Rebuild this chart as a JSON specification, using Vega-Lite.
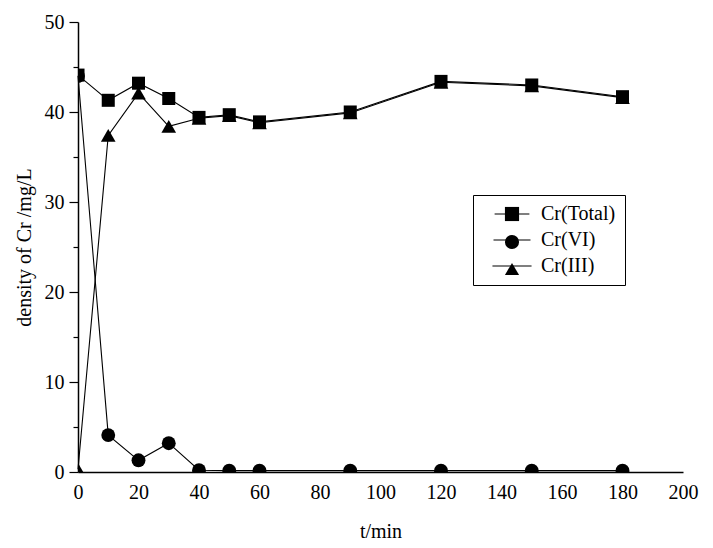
{
  "$schema": "https://vega.github.io/schema/vega-lite/v6.json",
  "width": 605,
  "height": 450,
  "autosize": {"type": "none"},
  "padding": {"left": 78, "top": 22, "right": 30, "bottom": 76},
  "background": "white",
  "config": {
    "view": {"stroke": null, "fill": null},
    "font": "Liberation Serif",
    "axis": {
      "labelFont": "Liberation Serif",
      "titleFont": "Liberation Serif",
      "labelFontSize": 20,
      "titleFontSize": 20,
      "labelColor": "black",
      "titleColor": "black",
      "titleFontWeight": "normal",
      "domainColor": "black",
      "domainWidth": 1.5,
      "tickColor": "black",
      "tickWidth": 1.2,
      "grid": false
    },
    "legend": {
      "labelFont": "Liberation Serif",
      "labelFontSize": 20,
      "labelColor": "black"
    }
  },
  "data": {
    "values": [
      {"t": 0, "series": "Cr(Total)", "value": 44.1},
      {"t": 10, "series": "Cr(Total)", "value": 41.3},
      {"t": 20, "series": "Cr(Total)", "value": 43.2},
      {"t": 30, "series": "Cr(Total)", "value": 41.5},
      {"t": 40, "series": "Cr(Total)", "value": 39.4},
      {"t": 50, "series": "Cr(Total)", "value": 39.7},
      {"t": 60, "series": "Cr(Total)", "value": 38.9},
      {"t": 90, "series": "Cr(Total)", "value": 40.0},
      {"t": 120, "series": "Cr(Total)", "value": 43.4},
      {"t": 150, "series": "Cr(Total)", "value": 43.0},
      {"t": 180, "series": "Cr(Total)", "value": 41.7},
      {"t": 0, "series": "Cr(VI)", "value": 44.0},
      {"t": 10, "series": "Cr(VI)", "value": 4.1},
      {"t": 20, "series": "Cr(VI)", "value": 1.3},
      {"t": 30, "series": "Cr(VI)", "value": 3.2},
      {"t": 40, "series": "Cr(VI)", "value": 0.2},
      {"t": 50, "series": "Cr(VI)", "value": 0.15},
      {"t": 60, "series": "Cr(VI)", "value": 0.15},
      {"t": 90, "series": "Cr(VI)", "value": 0.15},
      {"t": 120, "series": "Cr(VI)", "value": 0.15},
      {"t": 150, "series": "Cr(VI)", "value": 0.15},
      {"t": 180, "series": "Cr(VI)", "value": 0.15},
      {"t": 0, "series": "Cr(III)", "value": 0.3},
      {"t": 10, "series": "Cr(III)", "value": 37.4},
      {"t": 20, "series": "Cr(III)", "value": 42.1},
      {"t": 30, "series": "Cr(III)", "value": 38.4},
      {"t": 40, "series": "Cr(III)", "value": 39.3},
      {"t": 50, "series": "Cr(III)", "value": 39.6},
      {"t": 60, "series": "Cr(III)", "value": 38.8},
      {"t": 90, "series": "Cr(III)", "value": 39.9},
      {"t": 120, "series": "Cr(III)", "value": 43.3},
      {"t": 150, "series": "Cr(III)", "value": 42.9},
      {"t": 180, "series": "Cr(III)", "value": 41.6}
    ]
  },
  "encoding": {
    "x": {
      "field": "t", "type": "quantitative",
      "scale": {"domain": [0, 200], "nice": false},
      "axis": {"values": [0, 20, 40, 60, 80, 100, 120, 140, 160, 180, 200], "ticks": false, "labelPadding": 10, "title": "t/min", "titlePadding": 19, "labelFlush": false, "labelFont": "Liberation Serif", "labelFontSize": 20, "zindex": 1}
    },
    "y": {
      "field": "value", "type": "quantitative",
      "scale": {"domain": [0, 50], "nice": false},
      "axis": {
        "values": [0, 5, 10, 15, 20, 25, 30, 35, 40, 45, 50],
        "labelExpr": "datum.value % 10 === 0 ? datum.label : ''",
        "tickSize": {"condition": {"test": "datum.value % 10 === 0", "value": 9}, "value": 5},
        "labelPadding": 5,
        "title": "density of Cr /mg/L", "titlePadding": 10, "labelFlush": false,
        "labelFont": "Liberation Serif", "labelFontSize": 20,
        "zindex": 1
      }
    }
  },
  "layer": [
    {
      "mark": {"type": "line", "strokeWidth": 1.1},
      "encoding": {
        "stroke": {
          "field": "series", "type": "nominal",
          "scale": {"domain": ["Cr(Total)", "Cr(VI)", "Cr(III)"], "range": ["black", "black", "black"]},
          "legend": {
            "orient": "none",
            "legendX": 395,
            "legendY": 173,
            "title": null,
            "padding": 9,
            "strokeColor": "black",
            "symbolType": "M-2.667,0H2.667",
            "symbolSize": 324,
            "symbolOffset": 20,
            "symbolStrokeWidth": 1.1,
            "symbolStrokeColor": "black",
            "labelOffset": 19,
            "rowPadding": 6,
            "labelFont": "Liberation Serif",
            "labelFontSize": 20,
            "encode": {
              "symbols": {
                "update": {
                  "size": {"value": 324},
                  "stroke": {"value": "black"},
                  "strokeWidth": {"value": 1.1}
                }
              }
            }
          }
        }
      }
    },
    {
      "mark": {"type": "point", "filled": true, "color": "black", "opacity": 1, "clip": true},
      "encoding": {
        "shape": {
          "field": "series", "type": "nominal",
          "scale": {"domain": ["Cr(Total)", "Cr(VI)", "Cr(III)", "_"], "range": ["square", "circle", "triangle-up", "circle"]},
          "legend": {
            "orient": "none",
            "legendX": 424,
            "legendY": 182,
            "title": null,
            "values": ["Cr(Total)", "Cr(VI)", "Cr(III)"],
            "labelExpr": "''",
            "padding": 0,
            "symbolSize": 200,
            "symbolOffset": 0,
            "symbolFillColor": "black",
            "symbolOpacity": 1,
            "rowPadding": 6
          }
        },
        "size": {
          "field": "series", "type": "nominal",
          "scale": {"domain": ["Cr(Total)", "Cr(VI)", "Cr(III)"], "range": [170, 215, 290]},
          "legend": null
        }
      }
    }
  ]
}
